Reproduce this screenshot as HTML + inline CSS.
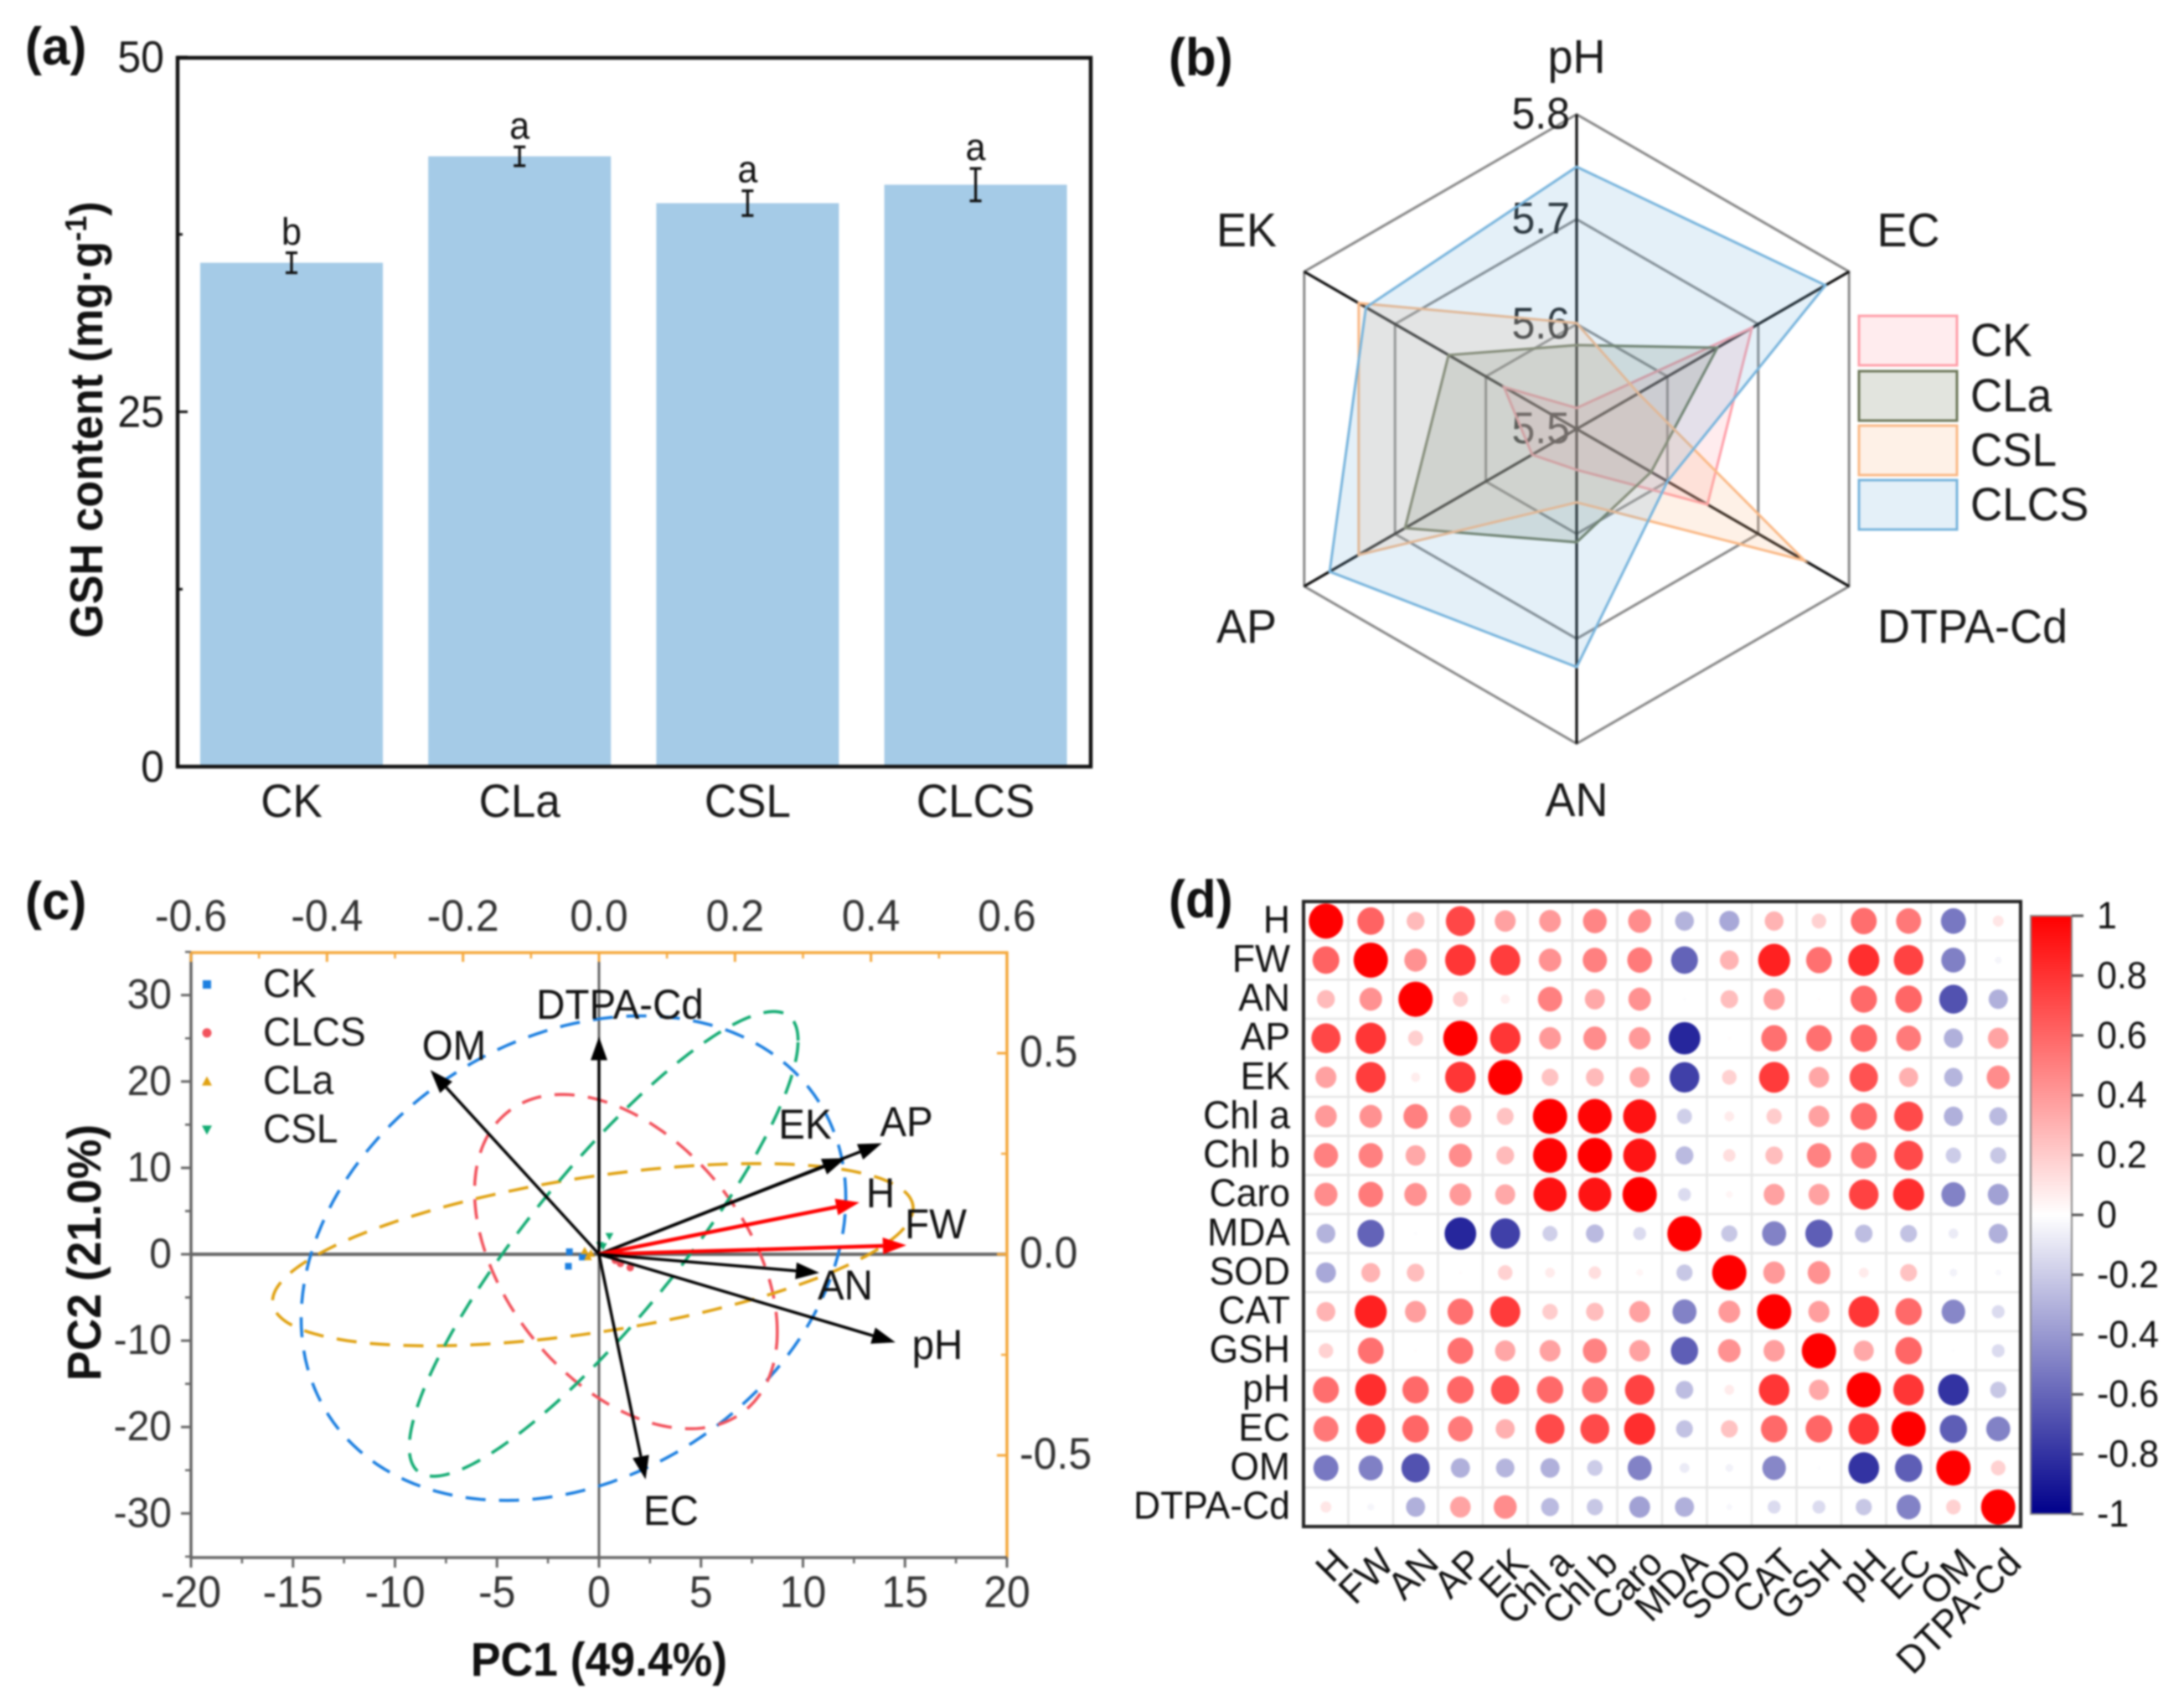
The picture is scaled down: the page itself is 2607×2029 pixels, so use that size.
<!DOCTYPE html>
<html lang="en">
<head>
<meta charset="utf-8">
<title>GSH content, soil radar, PCA biplot and correlation matrix</title>
<style>
  html, body { margin: 0; padding: 0; background: #fff; }
  svg { display: block; filter: blur(1.1px); }
  text { font-family: "Liberation Sans", Arial, sans-serif; }
</style>
</head>
<body>
<svg id="figure" xmlns="http://www.w3.org/2000/svg" width="2607" height="2029" viewBox="0 0 2607 2029">
  <rect x="0" y="0" width="2607" height="2029" fill="#ffffff"/>

  <g id="panel-a"></g>
  <g id="panel-b"></g>
  <g id="panel-c"></g>
  <g id="panel-d"></g>

  <text x="30" y="77" font-size="60" font-weight="bold" fill="#111">(a)</text>
  <text x="1395" y="90" font-size="60" font-weight="bold" fill="#111">(b)</text>
  <text x="30" y="1097" font-size="60" font-weight="bold" fill="#111">(c)</text>
  <text x="1395" y="1095" font-size="60" font-weight="bold" fill="#111">(d)</text>

  <text transform="translate(122,501) rotate(-90)" text-anchor="middle" font-size="52" font-weight="bold" fill="#111">GSH content (mg·g<tspan font-size="34" dy="-18">-1</tspan><tspan dy="18">)</tspan></text>
  <text transform="translate(120,1495) rotate(-90)" text-anchor="middle" font-size="53.5" font-weight="bold" fill="#111">PC2 (21.0%)</text>
  <text x="715" y="2000" text-anchor="middle" font-size="53.5" font-weight="bold" fill="#111">PC1 (49.4%)</text>
</svg>

<script>
/* ---------- panel (a) data ---------- */
const barCategories = ['CK', 'CLa', 'CSL', 'CLCS'];
const barValues = [35.5, 43.0, 39.7, 41.0];
const barErrors = [0.7, 0.66, 0.87, 1.14];
const barLetters = ['b', 'a', 'a', 'a'];
const barMajorTicks = [0, 25, 50];
const barMinorTicks = [12.5, 37.5];

/* ---------- panel (b) data ---------- */
const radarAxes = ['pH', 'EC', 'DTPA-Cd', 'AN', 'AP', 'EK'];
const radarTicks = [5.5, 5.6, 5.7, 5.8];
const radarGroups = ['CK', 'CLa', 'CSL', 'CLCS'];
const radarCK = [5.52, 5.693, 5.644, 5.539, 5.549, 5.58];
const radarCLa = [5.58, 5.655, 5.582, 5.608, 5.689, 5.641];
const radarCSL = [5.601, 5.568, 5.751, 5.57, 5.74, 5.74];
const radarCLCS = [5.75, 5.774, 5.6, 5.727, 5.772, 5.732];

/* ---------- panel (c) data ---------- */
const pcaBottomTicks = [-20, -15, -10, -5, 0, 5, 10, 15, 20];
const pcaLeftTicks = [-30, -20, -10, 0, 10, 20, 30];
const pcaTopTicks = [-0.6, -0.4, -0.2, 0.0, 0.2, 0.4, 0.6];
const pcaRightTicks = [-0.5, 0.0, 0.5];
const pcaGroups = ['CK', 'CLCS', 'CLa', 'CSL'];
const scoreCKx = [-1.45, -0.82, -1.5];
const scoreCKy = [0.29, -0.32, -1.39];
const scoreCLCSx = [1.05, 1.53, 0.8];
const scoreCLCSy = [-1.07, -1.55, -0.7];
const scoreCLax = [-0.54, -0.4, -0.7];
const scoreClay = [-0.3, 0.1, 0.4];
const scoreCSLx = [0.51, 0.05, 0.2];
const scoreCSLy = [2.07, 1.03, 0.9];
const ellipseCenterX = [-1.25, 1.32, -0.3, 0.23];
const ellipseCenterY = [-0.45, -0.85, -0.05, 1.2];
const ellipseHalfX = [13.35, 7.42, 15.7, 9.53];
const ellipseHalfY = [28.05, 19.35, 10.55, 26.9];
const ellipseCorr = [0.25, -0.42, 0.51, 0.875];
const loadingNames = ['OM', 'DTPA-Cd', 'EK', 'AP', 'H', 'FW', 'AN', 'pH', 'EC'];
const loadingX = [-0.248, 0, 0.363, 0.416, 0.383, 0.452, 0.324, 0.436, 0.0685];
const loadingY = [0.458, 0.541, 0.239, 0.276, 0.129, 0.0225, -0.046, -0.219, -0.56];
const loadingHighlighted = [false, false, false, false, true, true, false, false, false];

/* ---------- panel (d) data ---------- */
const corrLabels = ['H', 'FW', 'AN', 'AP', 'EK', 'Chl a', 'Chl b', 'Caro', 'MDA', 'SOD', 'CAT', 'GSH', 'pH', 'EC', 'OM', 'DTPA-Cd'];
const corrRowH = [1, .61, .27, .72, .37, .4, .48, .45, -.3, -.34, .3, .18, .57, .53, -.53, .1];
const corrRowFW = [.61, 1, .43, .79, .76, .43, .5, .52, -.61, .3, .87, .56, .82, .74, -.5, -.04];
const corrRowAN = [.27, .43, 1, .19, .07, .5, .34, .43, -.01, .26, .38, .01, .59, .6, -.68, -.31];
const corrRowAP = [.72, .79, .19, 1, .79, .4, .45, .4, -.85, .01, .56, .56, .6, .52, -.31, .36];
const corrRowEK = [.37, .76, .07, .79, 1, .24, .27, .34, -.75, .18, .77, .35, .68, .31, -.29, .45];
const corrRowChla = [.4, .43, .5, .4, .24, 1, .98, .93, -.19, .08, .2, .37, .59, .71, -.31, -.27];
const corrRowChlb = [.5, .5, .34, .45, .27, .98, 1, .92, -.27, .13, .26, .49, .56, .71, -.2, -.22];
const corrRowCaro = [.45, .52, .43, .4, .34, .93, .92, 1, -.14, .04, .37, .37, .74, .82, -.49, -.37];
const corrRowMDA = [-.3, -.61, -.01, -.85, -.75, -.19, -.27, -.14, 1, -.22, -.49, -.63, -.26, -.24, -.08, -.31];
const corrRowSOD = [-.34, .3, .26, .01, .18, .08, .13, .04, -.22, 1, .4, .43, .08, .24, -.05, -.03];
const corrRowCAT = [.3, .87, .38, .56, .77, .2, .26, .37, -.49, .4, 1, .38, .79, .59, -.47, -.14];
const corrRowGSH = [.18, .56, .01, .56, .35, .37, .49, .37, -.63, .43, .38, 1, .34, .6, -.01, -.14];
const corrRowpH = [.57, .82, .59, .6, .68, .59, .56, .74, -.26, .08, .79, .34, 1, .79, -.8, -.22];
const corrRowEC = [.53, .74, .6, .52, .31, .71, .71, .82, -.24, .24, .59, .6, .79, 1, -.63, -.49];
const corrRowOM = [-.53, -.5, -.68, -.31, -.29, -.31, -.2, -.49, -.08, -.05, -.47, -.01, -.8, -.63, 1, .18];
const corrRowDTPA = [.1, -.04, -.31, .36, .45, -.27, -.22, -.37, -.31, -.03, -.14, -.14, -.22, -.49, .18, 1];
const colorbarTicks = ['1', '0.8', '0.6', '0.4', '0.2', '0', '-0.2', '-0.4', '-0.6', '-0.8', '-1'];

/* ---------- helpers ---------- */
const NS = 'http://www.w3.org/2000/svg';
function mk(parent, tag, attrs) {
  const node = document.createElementNS(NS, tag);
  for (const k in attrs) node.setAttribute(k, attrs[k]);
  parent.appendChild(node);
  return node;
}
function slug(s) { return String(s).toLowerCase().replace(/[^a-z0-9]+/g, '-'); }

/* ---------- panel (a) ---------- */
(function () {
  const g = document.getElementById('panel-a');
  const barX = i => 348 + i * 272.2;
  const barY = v => 915 - v * 16.94;
  const w = 218;
  barCategories.forEach((c, i) => {
    const bar = mk(g, 'rect', { x: barX(i) - w / 2, y: barY(barValues[i]), width: w, height: barY(0) - barY(barValues[i]), fill: '#a5cbe7' });
    
    

    const top = barY(barValues[i] + barErrors[i]);
    const bot = barY(barValues[i] - barErrors[i]);
    const err = mk(g, 'path', { d: `M${barX(i) - 7} ${top}H${barX(i) + 7}M${barX(i)} ${top}V${bot}M${barX(i) - 7} ${bot}H${barX(i) + 7}`, stroke: '#111', 'stroke-width': 3.2, fill: 'none' });
    
    

    const letter = mk(g, 'text', { x: barX(i), y: top - 10, 'text-anchor': 'middle', 'font-size': 43, fill: '#111' });
    letter.textContent = barLetters[i];
    
    

    const lab = mk(g, 'text', { x: barX(i), y: 975, 'text-anchor': 'middle', 'font-size': 53, fill: '#1a1a1a' });
    lab.textContent = c;
    
    
  });
  barMajorTicks.forEach(v => {
    const t = mk(g, 'line', { x1: 211, x2: 224, y1: barY(v), y2: barY(v), stroke: '#111', 'stroke-width': 3 });
    
    
    const lab = mk(g, 'text', { x: 196, y: barY(v) + 18, 'text-anchor': 'end', 'font-size': 50, fill: '#1a1a1a' });
    lab.textContent = v;
    
    
  });
  barMinorTicks.forEach(v => {
    const t = mk(g, 'line', { x1: 211, x2: 218, y1: barY(v), y2: barY(v), stroke: '#111', 'stroke-width': 3 });
    
    
  });
  const frame = mk(g, 'rect', { x: 212, y: 69, width: 1090, height: 846, fill: 'none', stroke: '#111', 'stroke-width': 4.5 });
  
  
})();

/* ---------- panel (b) ---------- */
(function () {
  const g = document.getElementById('panel-b');
  const cx = 1882, cy = 512, R = 375.5;
  const radial = v => (v - radarTicks[0]) / (radarTicks[radarTicks.length - 1] - radarTicks[0]) * R;
  const angle = i => -Math.PI / 2 + i * Math.PI / 3;
  const pt = (i, v) => [cx + radial(v) * Math.cos(angle(i)), cy + radial(v) * Math.sin(angle(i))];

  radarTicks.slice(1).forEach(v => {
    const ring = mk(g, 'polygon', { points: radarAxes.map((_, i) => pt(i, v).join(',')).join(' '), fill: 'none', stroke: '#888', 'stroke-width': 3 });
    
    
  });
  radarAxes.forEach((a, i) => {
    const end = pt(i, radarTicks[radarTicks.length - 1]);
    const sp = mk(g, 'line', { x1: cx, y1: cy, x2: end[0], y2: end[1], stroke: '#111', 'stroke-width': 3.2 });
    
    
  });
  radarTicks.forEach(v => {
    const lab = mk(g, 'text', { x: 1874, y: cy - radial(v) + 17, 'text-anchor': 'end', 'font-size': 50, fill: '#1a1a1a' });
    lab.textContent = v.toFixed(1);
    
    
  });

  const series = [radarCK, radarCLa, radarCSL, radarCLCS];
  const colors = ['#ffa0aa', '#6e785a', '#fab987', '#78b4dc'];
  const legendY = [377, 443, 508, 573];
  radarGroups.forEach((name, s) => {
    const poly = mk(g, 'polygon', { points: series[s].map((v, i) => pt(i, v).join(',')).join(' '), fill: colors[s], 'fill-opacity': 0.2, stroke: colors[s], 'stroke-width': 3 });
    
    

    const box = mk(g, 'rect', { x: 2219, y: legendY[s], width: 117, height: 59, fill: colors[s], 'fill-opacity': 0.2, stroke: colors[s], 'stroke-width': 3 });
    
    

    const t = mk(g, 'text', { x: 2352, y: legendY[s] + 48, 'font-size': 53, fill: '#1a1a1a' });
    t.textContent = name;
    
    
  });

  const labelPos = [[1882, 87, 'middle'], [2278, 294, 'middle'], [2241, 767, 'start'], [1882, 974, 'middle'], [1488, 767, 'middle'], [1488, 294, 'middle']];
  radarAxes.forEach((a, i) => {
    const t = mk(g, 'text', { x: labelPos[i][0], y: labelPos[i][1], 'text-anchor': labelPos[i][2], 'font-size': 54, fill: '#1a1a1a' });
    t.textContent = a;
    
    
  });
})();

/* ---------- panel (c) ---------- */
(function () {
  const g = document.getElementById('panel-c');
  const L = 228, Rt = 1202, T = 1137, B = 1859;
  const sx = v => 715 + v * 24.35;
  const sy = v => 1497 - v * 10.31;
  const lx = v => 715 + v * 811.67;
  const ly = v => 1497 - v * 480;
  const grey = '#666', orange = '#f5a83c';

  const spineH = mk(g, 'line', { x1: L, x2: Rt, y1: sy(0), y2: sy(0), stroke: '#666', 'stroke-width': 4 });
  
  
  const spineV = mk(g, 'line', { x1: sx(0), x2: sx(0), y1: T, y2: B, stroke: '#666', 'stroke-width': 3 });
  
  

  const topSpine = mk(g, 'path', { d: `M${L} ${T}H${Rt}V${B}`, fill: 'none', stroke: orange, 'stroke-width': 3.5 });
  
  
  const leftSpine = mk(g, 'path', { d: `M${L} ${T}V${B}H${Rt}`, fill: 'none', stroke: grey, 'stroke-width': 3.5 });
  
  

  pcaBottomTicks.forEach((v, i) => {
    const t = mk(g, 'line', { x1: sx(v), x2: sx(v), y1: B, y2: B + 12, stroke: grey, 'stroke-width': 3 });
    
    
    if (i < pcaBottomTicks.length - 1) {
      const m = mk(g, 'line', { x1: sx(v + 2.5), x2: sx(v + 2.5), y1: B, y2: B + 7, stroke: grey, 'stroke-width': 2.5 });
      
      
    }
    const lab = mk(g, 'text', { x: sx(v), y: 1918, 'text-anchor': 'middle', 'font-size': 50, fill: '#333' });
    lab.textContent = v;
    
    
  });
  pcaLeftTicks.forEach(v => {
    const t = mk(g, 'line', { x1: L - 12, x2: L, y1: sy(v), y2: sy(v), stroke: grey, 'stroke-width': 3 });
    
    
    [-5, 5].forEach(off => {
      const m = mk(g, 'line', { x1: L - 7, x2: L, y1: sy(v + off), y2: sy(v + off), stroke: grey, 'stroke-width': 2.5 });
      
      
    });
    const lab = mk(g, 'text', { x: 205, y: sy(v) + 16, 'text-anchor': 'end', 'font-size': 48, fill: '#333' });
    lab.textContent = v;
    
    
  });
  pcaTopTicks.forEach((v, i) => {
    const t = mk(g, 'line', { x1: lx(v), x2: lx(v), y1: T, y2: T + 11, stroke: orange, 'stroke-width': 3 });
    
    
    if (i < pcaTopTicks.length - 1) {
      const m = mk(g, 'line', { x1: lx(v + 0.1), x2: lx(v + 0.1), y1: T, y2: T + 7, stroke: orange, 'stroke-width': 2.5 });
      
      
    }
    const lab = mk(g, 'text', { x: lx(v), y: 1111, 'text-anchor': 'middle', 'font-size': 50, fill: '#333' });
    lab.textContent = v.toFixed(1);
    
    
  });
  pcaRightTicks.forEach(v => {
    const t = mk(g, 'line', { x1: Rt - 12, x2: Rt, y1: ly(v), y2: ly(v), stroke: orange, 'stroke-width': 3 });
    
    
    const lab = mk(g, 'text', { x: 1217, y: ly(v) + 16, 'font-size': 50, fill: '#333' });
    lab.textContent = v.toFixed(1);
    
    
  });
  [-0.25, 0.25].forEach(v => {
    const m = mk(g, 'line', { x1: Rt - 7, x2: Rt, y1: ly(v), y2: ly(v), stroke: orange, 'stroke-width': 2.5 });
    
    
  });

  /* confidence ellipses, CK / CLCS / CLa / CSL */
  const ellipseColors = ['#1c7fe0', '#f2525c', '#e0a212', '#12ab72'];
  pcaGroups.forEach((name, k) => {
    const phi = Math.acos(ellipseCorr[k]);
    let d = '';
    for (let s = 0; s <= 180; s++) {
      const t = s / 180 * 2 * Math.PI;
      const xv = ellipseCenterX[k] + ellipseHalfX[k] * Math.cos(t);
      const yv = ellipseCenterY[k] + ellipseHalfY[k] * Math.cos(t - phi);
      d += (s ? 'L' : 'M') + sx(xv).toFixed(1) + ' ' + sy(yv).toFixed(1);
    }
    const e = mk(g, 'path', { d: d + 'Z', fill: 'none', stroke: ellipseColors[k], 'stroke-width': 3.6, 'stroke-dasharray': '24 16' });
    
    
  });

  /* scores */
  const drawMarker = (parent, kind, x, y, r, color) => {
    if (kind === 0) return mk(parent, 'rect', { x: x - r, y: y - r, width: 2 * r, height: 2 * r, fill: color });
    if (kind === 1) return mk(parent, 'circle', { cx: x, cy: y, r: r * 1.1, fill: color });
    if (kind === 2) return mk(parent, 'polygon', { points: `${x},${y - r * 1.2} ${x - r * 1.2},${y + r} ${x + r * 1.2},${y + r}`, fill: color });
    return mk(parent, 'polygon', { points: `${x},${y + r * 1.2} ${x - r * 1.2},${y - r} ${x + r * 1.2},${y - r}`, fill: color });
  };
  const scoreXs = [scoreCKx, scoreCLCSx, scoreCLax, scoreCSLx];
  const scoreYs = [scoreCKy, scoreCLCSy, scoreClay, scoreCSLy];
  pcaGroups.forEach((name, k) => {
    scoreXs[k].forEach((xv, i) => {
      const m = drawMarker(g, k, sx(xv), sy(scoreYs[k][i]), 4, ellipseColors[k]);
      
      
    });
    const ly0 = 1175 + k * 57.8;
    const lm = drawMarker(g, k, 247, ly0, 5, ellipseColors[k]);
    
    
    const lt = mk(g, 'text', { x: 314, y: ly0 + 15, 'font-size': 46, fill: '#1a1a1a' });
    lt.textContent = name;
    
    
  });

  /* loading arrows */
  const labelCentre = { 'OM': [542, 1265], 'DTPA-Cd': [740, 1216], 'EK': [961, 1359], 'AP': [1082, 1356], 'H': [1051, 1441], 'FW': [1117, 1478], 'AN': [1009, 1551], 'pH': [1119, 1622], 'EC': [801, 1820] };
  loadingNames.forEach((name, i) => {
    const col = loadingHighlighted[i] ? '#ff0000' : '#000000';
    const x2 = lx(loadingX[i]), y2 = ly(loadingY[i]);
    const dx = x2 - 715, dy = y2 - 1497, len = Math.hypot(dx, dy);
    const ux = dx / len, uy = dy / len, hl = 28, hw = 10;
    const bx = x2 - ux * hl, by = y2 - uy * hl;
    const shaft = mk(g, 'line', { x1: 715, y1: 1497, x2: bx, y2: by, stroke: col, 'stroke-width': loadingHighlighted[i] ? 4.5 : 3.5 });
    
    
    const head = mk(g, 'polygon', { points: `${x2},${y2} ${bx - uy * hw},${by + ux * hw} ${bx + uy * hw},${by - ux * hw}`, fill: col });
    
    
    const c = labelCentre[name];
    const t = mk(g, 'text', { x: c[0], y: c[1], 'text-anchor': 'middle', 'font-size': 47.5, fill: '#111' });
    t.textContent = name;
    
    
  });
})();

/* ---------- panel (d) ---------- */
(function () {
  const g = document.getElementById('panel-d');
  const L = 1556, T = 1076, cw = 53.5, ch = 46.625, n = corrLabels.length;
  const rows = [corrRowH, corrRowFW, corrRowAN, corrRowAP, corrRowEK, corrRowChla, corrRowChlb, corrRowCaro, corrRowMDA, corrRowSOD, corrRowCAT, corrRowGSH, corrRowpH, corrRowEC, corrRowOM, corrRowDTPA];
  const cellX = j => L + (j + 0.5) * cw;
  const cellY = i => T + (i + 0.5) * ch;
  const color = r => {
    const t = Math.abs(r), a = Math.round(255 * (1 - t));
    if (r >= 0) return `rgb(255,${a},${a})`;
    return `rgb(${a},${a},${Math.round(255 - 116 * t)})`;
  };
  for (let i = 1; i < n; i++) {
    const h = mk(g, 'line', { x1: L, x2: L + n * cw, y1: T + i * ch, y2: T + i * ch, stroke: '#e6e6e6', 'stroke-width': 2.5 });
    
    
    const v = mk(g, 'line', { x1: L + i * cw, x2: L + i * cw, y1: T, y2: T + n * ch, stroke: '#e6e6e6', 'stroke-width': 2.5 });
    
    
  }
  rows.forEach((row, i) => {
    row.forEach((r, j) => {
      const s = Math.sqrt(Math.abs(r));
      const c = mk(g, 'ellipse', { cx: cellX(j), cy: cellY(i), rx: 20.5 * s, ry: 21 * s, fill: color(r) });
      
      
    });
    const yl = mk(g, 'text', { x: 1540, y: cellY(i) + 14, 'text-anchor': 'end', 'font-size': 44.5, fill: '#111' });
    yl.textContent = corrLabels[i];
    
    
    const xl = mk(g, 'text', { transform: `translate(${cellX(i) + 30},1868) rotate(-45)`, 'text-anchor': 'end', 'font-size': 44.5, fill: '#111' });
    xl.textContent = corrLabels[i];
    
    
  });
  const frame = mk(g, 'rect', { x: L, y: T, width: n * cw, height: n * ch, fill: 'none', stroke: '#222', 'stroke-width': 4 });
  
  

  /* colour bar */
  const defs = mk(document.getElementById('figure'), 'defs', {});
  const grad = mk(defs, 'linearGradient', { id: 'corr-gradient', x1: 0, y1: 0, x2: 0, y2: 1 });
  [['0', '#ff0000'], ['0.5', '#ffffff'], ['1', '#00008b']].forEach(p => mk(grad, 'stop', { offset: p[0], 'stop-color': p[1] }));
  const cbTop = 1093, cbBot = 1807;
  const bar = mk(g, 'rect', { x: 2424, y: cbTop, width: 49, height: cbBot - cbTop, fill: 'url(#corr-gradient)', stroke: '#888', 'stroke-width': 2 });
  
  
  const cbY = v => cbTop + (1 - v) / 2 * (cbBot - cbTop);
  colorbarTicks.forEach(s => {
    const v = parseFloat(s);
    const t = mk(g, 'line', { x1: 2473, x2: 2487, y1: cbY(v), y2: cbY(v), stroke: '#555', 'stroke-width': 3 });
    
    
    const lab = mk(g, 'text', { x: 2503, y: cbY(v) + 15, 'font-size': 43, fill: '#111' });
    lab.textContent = s;
    
    
  });
})();

/* reference lettering is slightly tall: stretch every label vertically about its baseline */
document.querySelectorAll('#figure text').forEach(node => {
  const stretch = 'scale(1,1.05)';
  const tr = node.getAttribute('transform');
  if (tr) {
    node.setAttribute('transform', tr + ' ' + stretch);
  } else {
    const x = node.getAttribute('x'), y = node.getAttribute('y');
    node.setAttribute('transform', `translate(${x},${y}) ${stretch} translate(${-x},${-y})`);
  }
});
</script>
</body>
</html>
